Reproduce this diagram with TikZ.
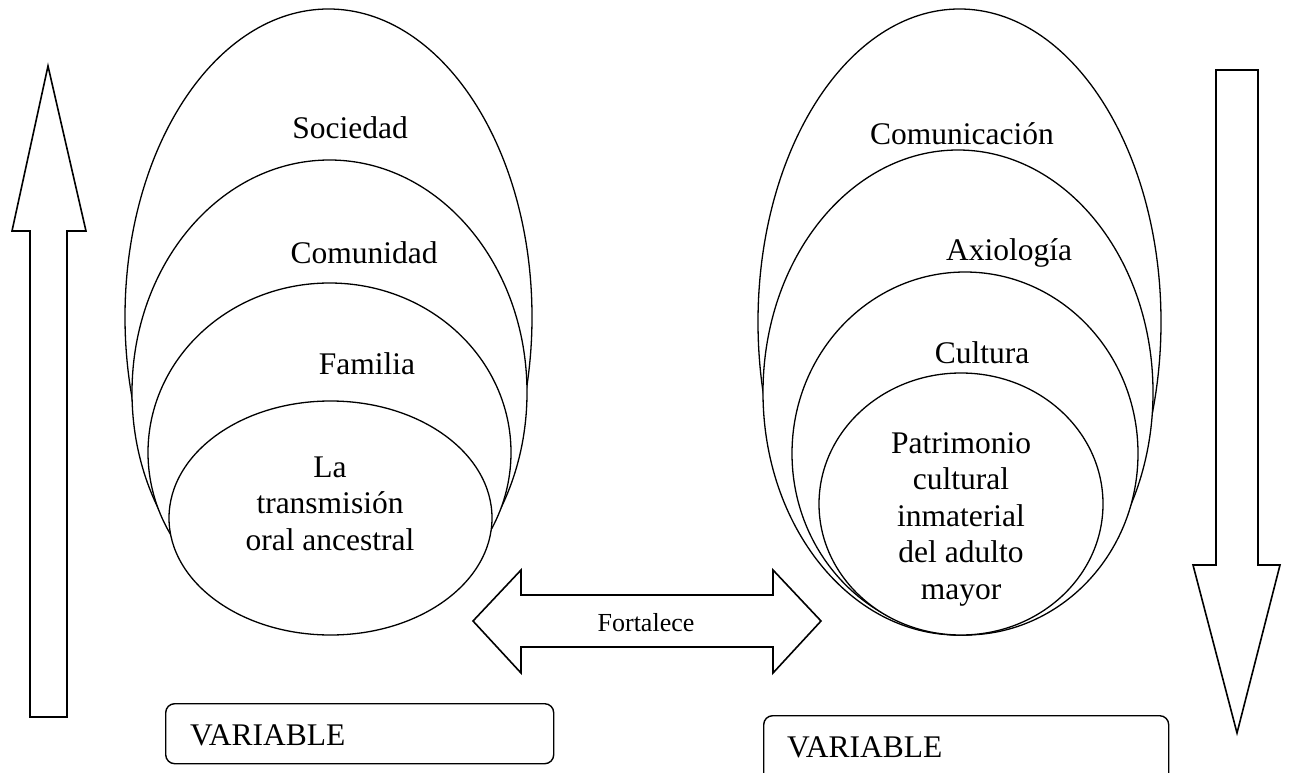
\documentclass[tikz,border=0pt]{standalone}
\usepackage{fontspec}
\setmainfont{Liberation Serif}
\usetikzlibrary{shapes.geometric}
\begin{document}
\begin{tikzpicture}[x=1pt,y=-1pt,
  ring/.style={draw, ellipse, fill=white, inner sep=0pt, line width=1.3pt},
  lbl/.style={font=\fontsize{31.5}{36.5}\selectfont, inner sep=0pt, anchor=base, align=center},
  smalllbl/.style={font=\fontsize{26}{30}\selectfont, inner sep=0pt, anchor=base},
  blockarrow/.style={draw, fill=white, line width=1.6pt, line join=miter},
  varbox/.style={draw, rounded corners=9pt, line width=1.4pt, inner sep=0pt, anchor=north west}]
\useasboundingbox (0,0) rectangle (1290,773);
\clip (0,0) rectangle (1290,773);
% left up arrow
\draw[blockarrow] (48,66) -- (86,231) -- (67,231) -- (67,717) -- (30,717) -- (30,231) -- (12,231) -- cycle;
% right down arrow
\draw[blockarrow] (1216,70) -- (1258,70) -- (1258,565) -- (1280,565) -- (1237,733) -- (1193,565) -- (1216,565) -- cycle;
% left ellipses
\node[ring, minimum width=407pt, minimum height=616pt] (soc) at (328.5,317) {};
\node[ring, minimum width=395pt, minimum height=465pt] (com) at (329.5,392.5) {};
\node[ring, minimum width=363pt, minimum height=339pt] (fam) at (329.5,452.5) {};
\node[ring, minimum width=323pt, minimum height=234pt] (tra) at (330.5,518) {};
% right ellipses
\node[ring, minimum width=403pt, minimum height=626pt] (cmn) at (959.5,322) {};
\node[ring, minimum width=390pt, minimum height=485pt] (axi) at (958,392.5) {};
\node[ring, minimum width=346pt, minimum height=363pt] (cul) at (965,453.5) {};
\node[ring, minimum width=284pt, minimum height=262pt] (pat) at (961,504) {};
% labels left
\node[lbl] (tsoc) at (350,139) {Sociedad};
\node[lbl] (tcom) at (364,263) {Comunidad};
\node[lbl] (tfam) at (367,374) {Familia};
\node[lbl] (ttra) at (330,550) {La\\transmisión\\oral ancestral};
% labels right
\node[lbl] (tcmn) at (962,145) {Comunicación};
\node[lbl] (taxi) at (1009,260) {Axiología};
\node[lbl] (tcul) at (982,363) {Cultura};
\node[lbl] (tpat) at (961,599) {Patrimonio\\cultural\\inmaterial\\del adulto\\mayor};
% double arrow
\draw[blockarrow] (473,621) -- (521,570) -- (521,595) -- (773,595) -- (773,570) -- (821,621) -- (773,673) -- (773,647) -- (521,647) -- (521,673) -- cycle;
\node[smalllbl] (fort) at (646,631) {Fortalece};
% variable boxes
\node[varbox, minimum width=388pt, minimum height=60pt] (box1) at (165,703) {};
\node[lbl, anchor=base west] (var1) at (190,745) {VARIABLE};
\node[varbox, minimum width=405pt, minimum height=75pt] (box2) at (763,715) {};
\node[lbl, anchor=base west] (var2) at (787,757) {VARIABLE};
\end{tikzpicture}
\end{document}
